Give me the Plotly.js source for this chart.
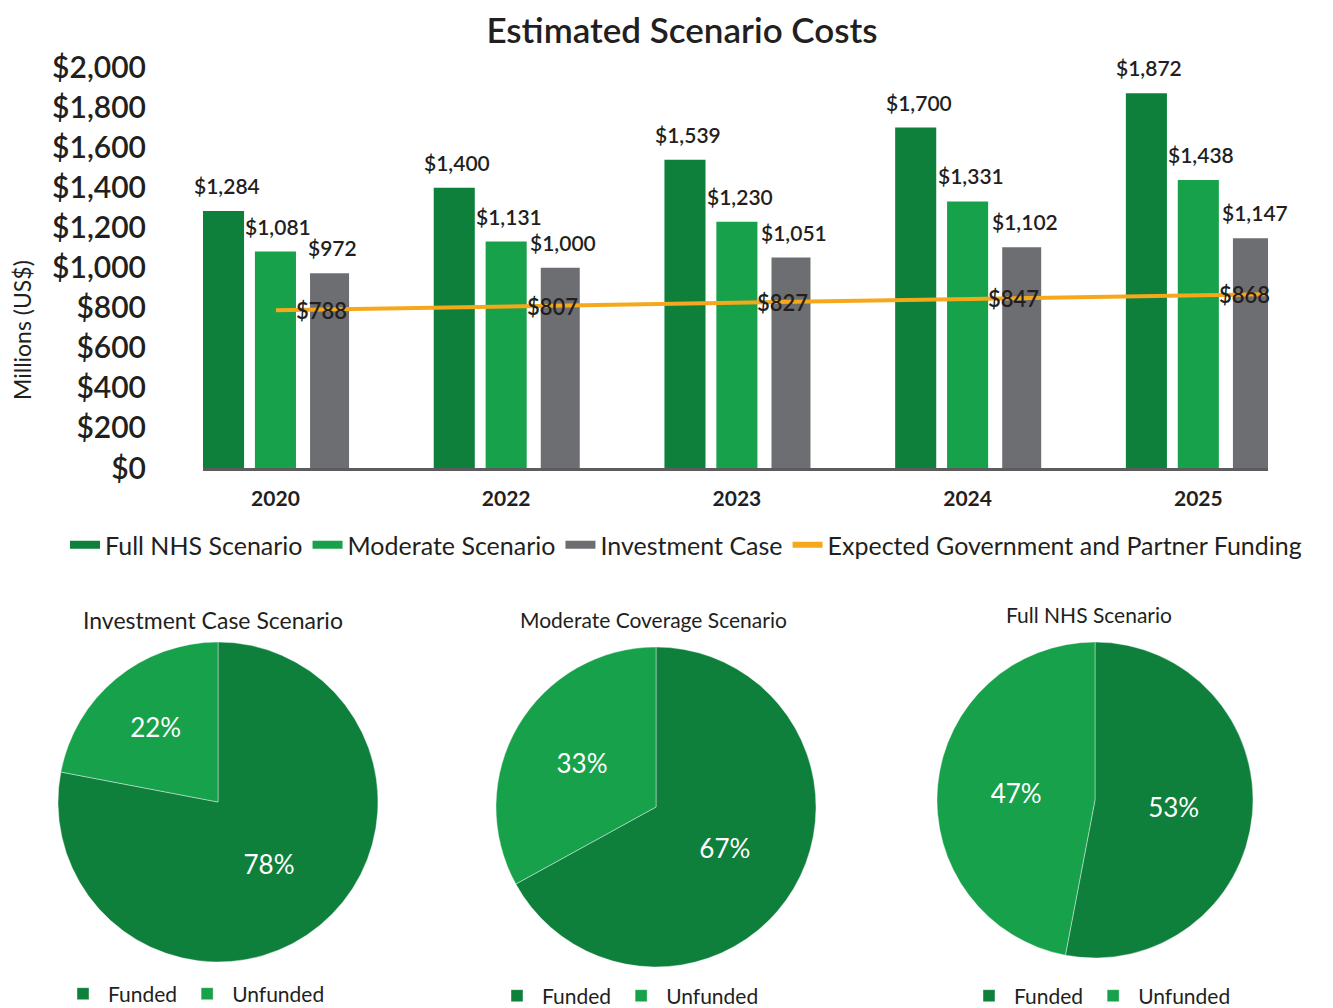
<!DOCTYPE html>
<html><head><meta charset="utf-8">
<script src="https://cdn.plot.ly/plotly-3.0.1.min.js"></script>
<style>html,body{margin:0;padding:0;background:#fff}#chart{width:1333px;height:1008px}</style>
</head><body><div id="chart"></div>
<script>
// ---- data ----
const years = ['2020', '2022', '2023', '2024', '2025'];
const fullNHS = [1284, 1400, 1539, 1700, 1872];
const moderate = [1081, 1131, 1230, 1331, 1438];
const investment = [972, 1000, 1051, 1102, 1147];
const funding = [788, 807, 827, 847, 868];
const yTickValues = [0, 200, 400, 600, 800, 1000, 1200, 1400, 1600, 1800, 2000];
const seriesNames = ['Full NHS Scenario', 'Moderate Scenario', 'Investment Case', 'Expected Government and Partner Funding'];
const pieLabels = ['Funded', 'Unfunded'];
const pieTitles = ['Investment Case Scenario', 'Moderate Coverage Scenario', 'Full NHS Scenario'];
const investmentPie = [78, 22];
const moderatePie = [67, 33];
const fullNHSPie = [53, 47];

// ---- style ----
const DARK = '#0e803c', MID = '#17a14a', GRAY = '#6d6e72', ORANGE = '#f6a81c', TXT = '#231f20';
const FONT = 'Lato, "Open Sans", sans-serif';
const W = 1333, H = 1008;
const px = v => v / W, py = v => (H - v) / H;

const barSpecs = [
  {name: seriesNames[0], data: fullNHS, color: DARK, offset: -0.314, width: 0.178},
  {name: seriesNames[1], data: moderate, color: MID, offset: -0.089, width: 0.178},
  {name: seriesNames[2], data: investment, color: GRAY, offset: 0.150, width: 0.169}
];

const traces = [];
const annotations = [];
const fmt = v => '$' + v.toLocaleString('en-US');

barSpecs.forEach(s => {
  traces.push({
    type: 'bar', x: years, y: s.data, offset: s.offset, width: s.width,
    marker: {color: s.color}, showlegend: false, hoverinfo: 'y'
  });
  s.data.forEach((v, i) => {
    annotations.push({
      x: i + s.offset + s.width / 2, xref: 'x', y: v, yref: 'y', text: fmt(v),
      showarrow: false, yanchor: 'bottom', yshift: 11, xshift: 3,
      font: {family: FONT, size: 21, color: TXT, weight: 600}
    });
  });
});

// funding line on its own overlaying x axis
traces.push({
  type: 'scatter', mode: 'lines', x: years.map((_, i) => i), y: funding,
  xaxis: 'x2', yaxis: 'y', line: {color: ORANGE, width: 4}, showlegend: false, hoverinfo: 'y'
});
funding.forEach((v, i) => {
  annotations.push({
    x: i, xref: 'x', y: v, yref: 'y', text: fmt(v), showarrow: false,
    xshift: 46, yanchor: 'middle',
    font: {family: FONT, size: 22, color: TXT, weight: 600}
  });
});

// legend entries for the bar chart
[DARK, MID, GRAY, ORANGE].forEach((c, k) => {
  traces.push({
    type: 'scatter', mode: 'lines', x: [null], y: [null], name: seriesNames[k],
    line: {color: c, width: k === 3 ? 6 : 8}, legend: 'legend', hoverinfo: 'skip'
  });
});

// pies
const pieData = [investmentPie, moderatePie, fullNHSPie];
const pieDomains = [
  {x: [px(58), px(378)], y: [py(962), py(642)]},
  {x: [px(496), px(816)], y: [py(967), py(647)]},
  {x: [px(937), px(1253)], y: [py(958), py(642)]}
];
const pieTitlePos = [[213, 620, 23], [653, 619, 21], [1089, 614, 21]];
const legendIds = ['legend2', 'legend3', 'legend4'];
pieData.forEach((vals, k) => {
  traces.push({
    type: 'pie', labels: pieLabels, values: vals, domain: pieDomains[k],
    sort: false, direction: 'clockwise', rotation: 0,
    marker: {colors: [DARK, MID], line: {color: 'rgba(255,255,255,0.5)', width: 0.8}},
    textinfo: 'percent', textposition: 'inside', insidetextorientation: 'horizontal',
    insidetextfont: {family: FONT, size: 26, color: '#ffffff'},
    legend: legendIds[k], legendgroup: 'pie' + k, hoverinfo: 'label+percent'
  });
  annotations.push({
    x: px(pieTitlePos[k][0]), xref: 'paper', y: py(pieTitlePos[k][1]), yref: 'paper',
    text: pieTitles[k], showarrow: false, xanchor: 'center', yanchor: 'middle',
    font: {family: FONT, size: pieTitlePos[k][2], color: TXT}
  });
});

// y axis title
annotations.push({
  x: px(22), xref: 'paper', y: py(330), yref: 'paper', text: 'Millions (US$)',
  textangle: -90, showarrow: false, xanchor: 'center', yanchor: 'middle',
  font: {family: FONT, size: 23, color: TXT}
});

const pieLegend = (x, yc) => ({
  orientation: 'h', x: px(x), xanchor: 'left', y: py(yc), yanchor: 'middle',
  font: {family: FONT, size: 21, color: TXT}, bgcolor: 'rgba(0,0,0,0)',
  itemwidth: 40, traceorder: 'normal'
});

const layout = {
  width: W, height: H, autosize: false,
  margin: {l: 0, r: 0, t: 0, b: 0, pad: 0, autoexpand: false},
  paper_bgcolor: '#ffffff', plot_bgcolor: 'rgba(0,0,0,0)',
  font: {family: FONT, color: TXT},
  title: {text: 'Estimated Scenario Costs', x: px(682), xanchor: 'center', y: py(31), yanchor: 'middle',
          xref: 'paper', yref: 'container', font: {family: FONT, size: 35, color: TXT, weight: 600}},
  barmode: 'overlay',
  xaxis: {
    type: 'category', domain: [px(203), px(1268)], range: [-0.314, 4.302],
    showline: true, linecolor: '#5c5c5e', linewidth: 3, ticks: '', showgrid: false, zeroline: false,
    tickfont: {family: FONT, size: 21, color: TXT, weight: 700}, ticklabelstandoff: 10,
    fixedrange: true
  },
  xaxis2: {
    overlaying: 'x', anchor: 'y', domain: [px(203), px(1268)], range: [-0.295, 4.012],
    visible: false, fixedrange: true
  },
  yaxis: {
    domain: [py(468), py(67.5)], range: [0, 2000], tickmode: 'array',
    tickvals: yTickValues, ticktext: yTickValues.map(fmt),
    showgrid: false, zeroline: false, showline: false, ticks: '',
    tickfont: {family: FONT, size: 30, color: TXT, weight: 600}, ticklabelstandoff: 56,
    fixedrange: true
  },
  showlegend: true,
  legend: {
    orientation: 'h', x: px(686), xanchor: 'center', y: py(545), yanchor: 'middle',
    font: {family: FONT, size: 25, color: TXT}, bgcolor: 'rgba(0,0,0,0)', itemwidth: 30,
    traceorder: 'normal'
  },
  legend2: pieLegend(58, 994),
  legend3: pieLegend(492, 996),
  legend4: pieLegend(964, 996),
  annotations: annotations
};

Plotly.newPlot('chart', traces, layout, {displayModeBar: false, staticPlot: true});
</script>
</body></html>
